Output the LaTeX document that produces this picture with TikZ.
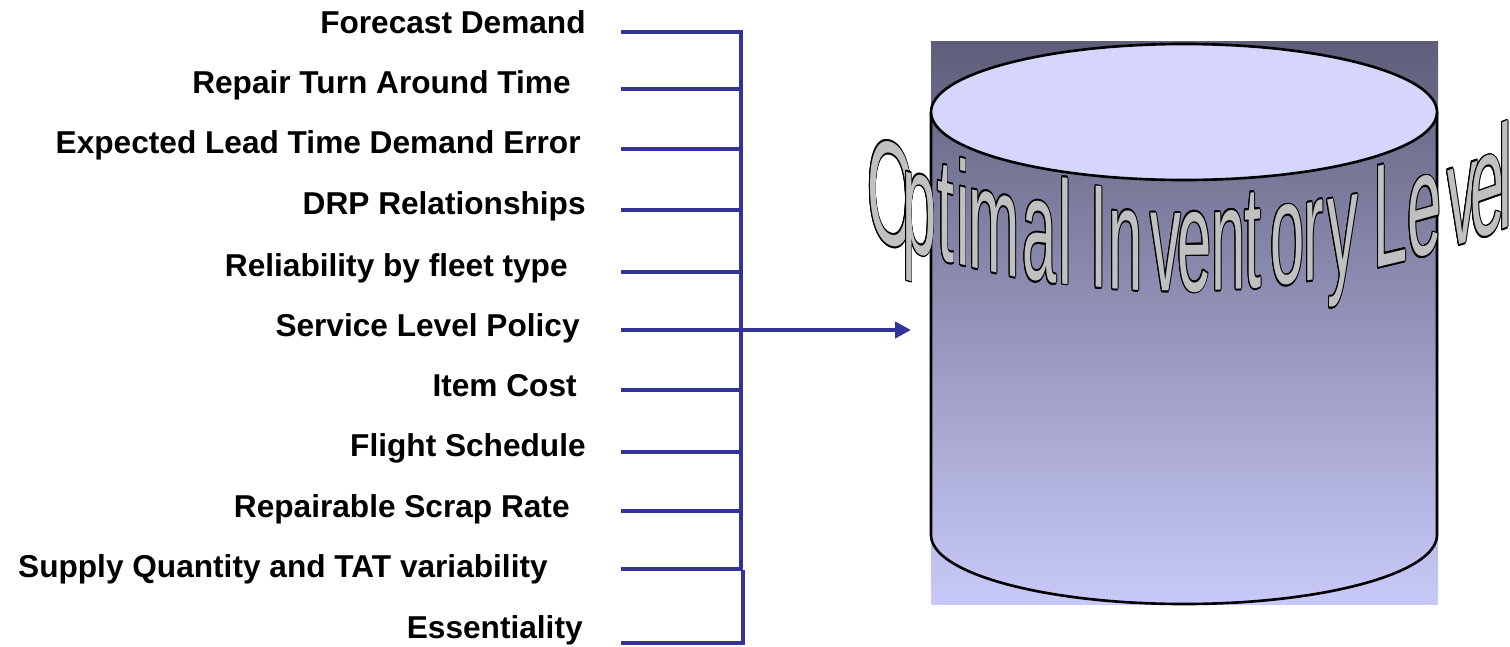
\documentclass[tikz,border=0pt]{standalone}
\usepackage{fontspec}
\setmainfont{Liberation Sans}
\usepackage[copies]{contour}
\contourlength{0.6pt}
\contournumber{12}
\usetikzlibrary{arrows.meta}
\definecolor{busblue}{RGB}{51,51,153}
\definecolor{drumtop}{RGB}{214,214,252}
\definecolor{drumdark}{RGB}{94,94,122}
\definecolor{drummid}{RGB}{150,150,190}
\definecolor{drumlight}{RGB}{201,201,249}
\definecolor{wordart}{RGB}{192,192,192}
\tikzset{
  factor/.style={anchor=base east, inner sep=0pt, font=\bfseries\fontsize{18}{20}\selectfont},
  bus/.style={busblue, line width=2.3pt},
  drum/.style={draw=black, line width=1.5pt},
  warp/.style={anchor=base west, inner sep=0pt, text=wordart,
    font=\fontsize{50}{50}\selectfont, xscale=0.7, yscale=1.67}
}

\begin{document}
\begin{tikzpicture}[x=0.02cm,y=-0.02cm]
\useasboundingbox (0,0) rectangle (1510,646);

% cylinder
\shade[top color=drumdark, middle color=drummid, bottom color=drumlight] (931,41) rectangle (1438,604);
\draw[drum] (931,112) -- (931,535) .. controls (931,573) and (1044,604) .. (1184,604)
  .. controls (1324,604) and (1437,573) .. (1437,535) -- (1437,112);
\draw[drum, fill=drumtop] (1184,112) ellipse [x radius=253, y radius=68];

% input factors and their feed lines
\foreach \lbl/\tx/\ty/\ly [count=\i] in {
  Forecast Demand/586/33/32,
  Repair Turn Around Time/571/93/89,
  Expected Lead Time Demand Error/581/153/149,
  DRP Relationships/586/214/210,
  Reliability by fleet type/568/276/272,
  Service Level Policy/580/336/330,
  Item Cost/577/396/390,
  Flight Schedule/586/456/452,
  Repairable Scrap Rate/570/517/511,
  Supply Quantity and TAT variability/548/577/569,
  Essentiality/583/638/643}
{
  \node[factor] (f\i) at (\tx,\ty) {\lbl};
  \coordinate (s\i) at (621,\ly);
  \coordinate (b\i) at (741,\ly);
}
\draw[bus] (s1) -- (b1) -- (b10) -- (s10);
\foreach \i in {2,...,9}
  \draw[bus] (s\i) -- (b\i);
\coordinate (e10) at (743,570);
\coordinate (e11) at (743,643);
\draw[bus] (s11) -- (e11) -- (e10);

\coordinate (inlet) at (911,330);
\draw[bus, -{Triangle[length=9pt,width=9pt]}] (b6) -- (inlet);

% arched title over the cylinder, one sheared letter at a time
\foreach \lt/\lx [count=\j] in {O/867, p/902, t/937, i/956, m/968, a/1022, l/1058,
  I/1090, n/1108, v/1150, e/1177, n/1211, t/1244, o/1270, r/1303, y/1327,
  L/1373, e/1407, v/1447, e/1470, l/1498}
{
  \pgfmathsetmacro\by{291-5.75*((\lx-1175)/100)^2}
  \pgfmathsetmacro\sl{0.115*((\lx+10-1175)/100)}
  \node[yslant=\sl, warp] (w\j) at (\lx,\by) {\contour{black}{\lt}};
}
\end{tikzpicture}
\end{document}
